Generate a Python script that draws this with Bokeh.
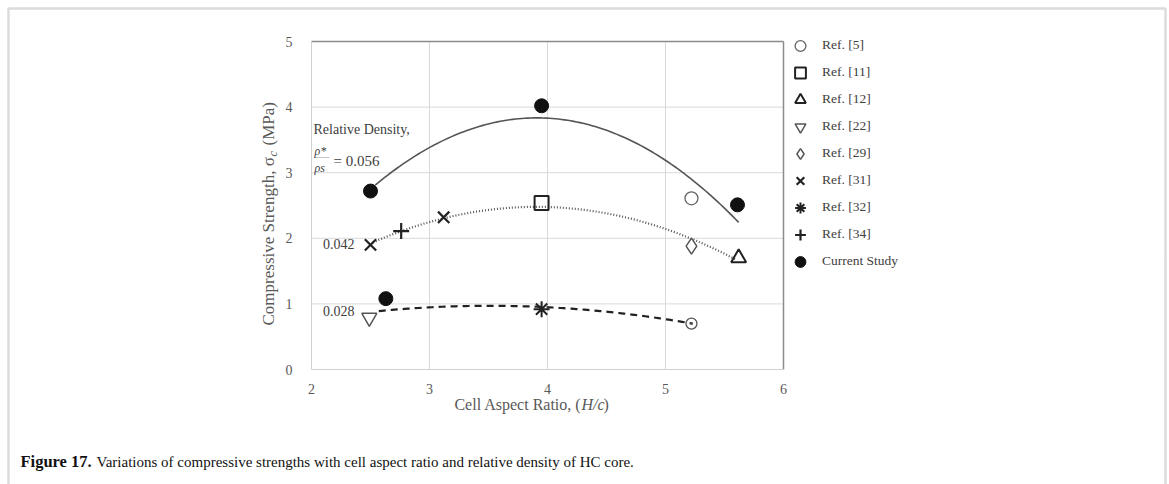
import numpy as np
from bokeh.plotting import figure
from bokeh.models import (Range1d, Label, Legend, LegendItem,
                          PolyAnnotation, FixedTicker)
from bokeh.embed import file_html
from bokeh.resources import INLINE

# ---- data: compressive strength (MPa) vs. cell aspect ratio H/c ----
current_x = [2.50, 3.95, 5.61, 2.63]
current_y = [2.72, 4.02, 2.51, 1.08]
ref5_x = [5.22]
ref5_y = [2.61]
ref5_low_x = [5.22]
ref5_low_y = [0.70]
ref11_x = [3.95]
ref11_y = [2.54]
ref12_x = [5.62]
ref12_y = [1.70]
ref22_x = [2.49]
ref22_y = [0.79]
ref29_x = [5.22]
ref29_y = [1.88]
ref31_x = [2.50, 3.12]
ref31_y = [1.90, 2.32]
ref32_x = [3.95]
ref32_y = [0.92]
ref34_x = [2.76]
ref34_y = [2.11]

# trend lines for the three relative densities (points along each curve)
trend056_x = [2.54, 3.00, 3.50, 3.95, 4.50, 5.00, 5.62]
trend056_y = [2.80, 3.38, 3.75, 3.87, 3.68, 3.08, 2.29]
trend042_x = [2.52, 2.75, 3.13, 3.50, 3.95, 4.50, 5.00, 5.23, 5.60]
trend042_y = [1.92, 2.10, 2.32, 2.45, 2.50, 2.38, 2.10, 1.95, 1.72]
trend028_x = [2.57, 3.00, 3.50, 3.95, 4.50, 5.00, 5.23]
trend028_y = [0.89, 0.95, 0.97, 0.95, 0.88, 0.78, 0.69]

x_ticks = [2, 3, 4, 5, 6]
y_ticks = [0, 1, 2, 3, 4, 5]

# ---- page geometry: plot area inside a 1169 x 484 page ----
W, H = 1169, 484
FL, FR, FT, FB = 311, 783, 41, 369
X0, X1, Y0, Y1 = 2, 6, 0, 5


def sx(px):
    return X0 + (px - FL) * (X1 - X0) / (FR - FL)


def sy(py):
    return Y0 + (FB - py) * (Y1 - Y0) / (FB - FT)


SERIF = "Liberation Serif"
GRAY_TXT = "#595959"
GRID = "#d9d9d9"

# the frame spans the whole page; the data ranges are extended to its edges
p = figure(width=W, height=H,
           x_range=Range1d(sx(0), sx(W)), y_range=Range1d(sy(H), sy(0)),
           output_backend="svg", toolbar_location=None,
           min_border=0, min_border_left=0, min_border_right=0,
           min_border_top=0, min_border_bottom=0)
p.outline_line_color = None
p.background_fill_color = "white"
p.border_fill_color = "white"
p.grid.visible = False

xa, ya = p.xaxis[0], p.yaxis[0]
xa.fixed_location = Y0
ya.fixed_location = X0
xa.bounds = (X0, X1)
ya.bounds = (Y0, Y1)
xa.ticker = FixedTicker(ticks=x_ticks)
ya.ticker = FixedTicker(ticks=y_ticks)
for ax in (xa, ya):
    ax.axis_line_color = "#d0d0d0"
    ax.major_tick_line_color = None
    ax.minor_tick_line_color = None
    ax.major_label_text_font = SERIF
    ax.major_label_text_font_size = "14px"
    ax.major_label_text_color = GRAY_TXT
xa.major_label_standoff = 8
ya.major_label_standoff = 13

# grid lines inside the plot area
p.segment(x0=x_ticks[1:-1], y0=Y0, x1=x_ticks[1:-1], y1=Y1, line_color=GRID, line_width=1)
p.segment(x0=X0, y0=y_ticks[1:-1], x1=X1, y1=y_ticks[1:-1], line_color=GRID, line_width=1)
# darker top and right borders of the plot area
p.segment(x0=[X0, X1], y0=[Y1, Y0], x1=[X1, X1], y1=[Y1, Y1],
          line_color="#8c8c8c", line_width=1.5)


def smooth(tx, ty, deg):
    xs = np.linspace(min(tx), max(tx), 120)
    ys = np.polyval(np.polyfit(tx, ty, deg), xs)
    return xs, ys


xs, ys = smooth(trend056_x, trend056_y, 2)
p.line(xs, ys, line_color="#555555", line_width=1.6)
xs, ys = smooth(trend042_x, trend042_y, 2)
p.line(xs, ys, line_color="#555555", line_width=2.2, line_dash="1 2")
xs, ys = smooth(trend028_x, trend028_y, 2)
p.line(xs, ys, line_color="#222222", line_width=2.2, line_dash="7 5")

r5 = p.scatter(ref5_x, ref5_y, marker="circle", size=13, fill_color=None,
               line_color="#666666", line_width=1.3)
p.scatter(ref5_low_x, ref5_low_y, marker="circle_dot", size=11, fill_color=None,
          line_color="#555555", line_width=1.3)
r11 = p.scatter(ref11_x, ref11_y, marker="square", size=14, fill_color=None,
                line_color="#222222", line_width=2)
r12 = p.scatter(ref12_x, ref12_y, marker="triangle", size=15, fill_color=None,
                line_color="#222222", line_width=2)
r22 = p.scatter(ref22_x, ref22_y, marker="inverted_triangle", size=15, fill_color=None,
                line_color="#555555", line_width=1.5)
r29 = p.scatter(ref29_x, ref29_y, marker="diamond", size=16, fill_color=None,
                line_color="#555555", line_width=1.5)
r31 = p.scatter(ref31_x, ref31_y, marker="x", size=16, line_color="#222222", line_width=2.2)
r32 = p.scatter(ref32_x, ref32_y, marker="asterisk", size=16, line_color="#222222", line_width=2)
r34 = p.scatter(ref34_x, ref34_y, marker="cross", size=16, line_color="#222222", line_width=2.2)
rc = p.scatter(current_x, current_y, marker="circle", size=14, fill_color="#111111",
               line_color="#111111")

legend = Legend(items=[
    LegendItem(label="Ref. [5]", renderers=[r5]),
    LegendItem(label="Ref. [11]", renderers=[r11]),
    LegendItem(label="Ref. [12]", renderers=[r12]),
    LegendItem(label="Ref. [22]", renderers=[r22]),
    LegendItem(label="Ref. [29]", renderers=[r29]),
    LegendItem(label="Ref. [31]", renderers=[r31]),
    LegendItem(label="Ref. [32]", renderers=[r32]),
    LegendItem(label="Ref. [34]", renderers=[r34]),
    LegendItem(label="Current Study", renderers=[rc]),
], location=(785, 209.5))
legend.glyph_width = 30
legend.glyph_height = 27
legend.label_height = 27
legend.spacing = 0
legend.padding = 0
legend.margin = 0
legend.label_standoff = 7
legend.label_text_font = SERIF
legend.label_text_font_size = "13.5px"
legend.label_text_color = "#404040"
legend.border_line_color = None
legend.background_fill_alpha = 0
p.add_layout(legend)

# y-axis title, rotated, with an italic subscript c
p.add_layout(Label(x=sx(268), y=sy(325), angle=np.pi / 2, text="Compressive Strength, σ",
                   text_font=SERIF, text_font_size="17px", text_color=GRAY_TXT,
                   text_align="left", text_baseline="middle"))
p.add_layout(Label(x=sx(272), y=sy(156), angle=np.pi / 2, text="c",
                   text_font=SERIF, text_font_style="italic", text_font_size="12px",
                   text_color=GRAY_TXT, text_align="left", text_baseline="middle"))
p.add_layout(Label(x=sx(268), y=sy(145), angle=np.pi / 2, text="(MPa)",
                   text_font=SERIF, text_font_size="17px", text_color=GRAY_TXT,
                   text_align="left", text_baseline="middle"))

# relative-density annotations
p.add_layout(Label(x=sx(313), y=sy(129), text="Relative Density,", text_font=SERIF,
                   text_font_size="14px", text_color="#404040", text_baseline="middle"))
p.add_layout(Label(x=sx(314), y=sy(150), text="ρ*", text_font=SERIF, text_font_style="italic",
                   text_font_size="12px", text_color="#404040", text_baseline="middle"))
p.add_layout(PolyAnnotation(xs=[sx(314), sx(329)], ys=[sy(157), sy(157)],
                            line_color="#404040", line_width=1, fill_alpha=0))
p.add_layout(Label(x=sx(314), y=sy(167), text="ρs", text_font=SERIF, text_font_style="italic",
                   text_font_size="12px", text_color="#404040", text_baseline="middle"))
p.add_layout(Label(x=sx(333), y=sy(160), text="= 0.056", text_font=SERIF,
                   text_font_size="15px", text_color="#404040", text_baseline="middle"))
p.add_layout(Label(x=sx(354), y=sy(243), text="0.042", text_font=SERIF, text_align="right",
                   text_font_size="14px", text_color="#404040", text_baseline="middle"))
p.add_layout(Label(x=sx(354), y=sy(310), text="0.028", text_font=SERIF, text_align="right",
                   text_font_size="14px", text_color="#404040", text_baseline="middle"))

# x-axis title with italic H/c
p.add_layout(Label(x=sx(581), y=sy(404), text="Cell Aspect Ratio, (", text_font=SERIF,
                   text_font_size="16px", text_color=GRAY_TXT, text_align="right",
                   text_baseline="middle"))
p.add_layout(Label(x=sx(581), y=sy(404), text="H/c", text_font=SERIF, text_font_style="italic",
                   text_font_size="16px", text_color=GRAY_TXT, text_align="left",
                   text_baseline="middle"))
p.add_layout(Label(x=sx(603), y=sy(404), text=")", text_font=SERIF,
                   text_font_size="16px", text_color=GRAY_TXT, text_align="left",
                   text_baseline="middle"))

# caption
p.add_layout(Label(x=sx(20), y=sy(461), text="Figure 17.", text_font=SERIF,
                   text_font_style="bold", text_font_size="16.5px", text_color="#111111",
                   text_baseline="middle"))
p.add_layout(Label(x=sx(96), y=sy(461),
                   text="Variations of compressive strengths with cell aspect ratio and "
                        "relative density of HC core.",
                   text_font=SERIF, text_font_size="15px", text_color="#111111",
                   text_baseline="middle"))

# page frame (open at the bottom)
p.add_layout(PolyAnnotation(xs=[sx(8), sx(8), sx(1165), sx(1165)],
                            ys=[sy(520), sy(8), sy(8), sy(520)],
                            line_color="#8a8a8a", line_width=2.5, fill_alpha=0))

open("out.html", "w").write(file_html(p, INLINE))
